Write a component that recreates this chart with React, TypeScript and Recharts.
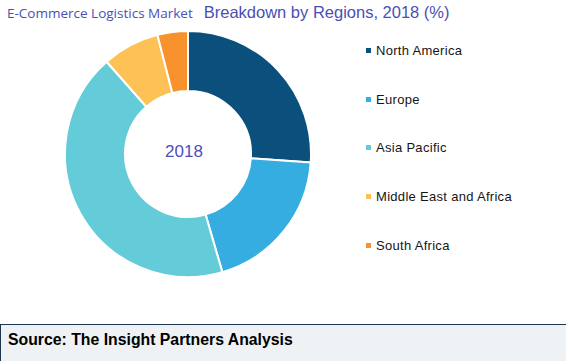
import React from 'react';
import { PieChart, Pie, Cell, Legend } from 'recharts';

const regions = ['North America', 'Europe', 'Asia Pacific', 'Middle East and Africa', 'South Africa'];
const shares = [26.1, 19.4, 43.0, 7.5, 4.0];
const colors = ['#0b4f7d', '#35ade1', '#63ccd8', '#fdc155', '#f7922c'];
const centerLabel = '2018';

const data = regions.map((name, i) => ({ name, value: shares[i] }));

const renderLegend = () => (
  <div style={{ display: 'flex', flexDirection: 'column' }}>
    {regions.map((r, i) => (
      <div key={r} style={{ display: 'flex', alignItems: 'center', height: 48.7, fontFamily: '"Liberation Sans", Arial, sans-serif', fontSize: 13, color: '#151515', letterSpacing: 0.3 }}>
        <span style={{ display: 'inline-block', width: 5, height: 5, background: colors[i], marginRight: 5 }} />
        {r}
      </div>
    ))}
  </div>
);

export default function App() {
  return (
    <div style={{ position: 'fixed', left: 0, top: 0, width: 570, height: 361, background: '#fff', overflow: 'hidden' }}>
      <div style={{ position: 'absolute', left: 7, top: 0, whiteSpace: 'nowrap', color: '#4a4fb5', lineHeight: '24px' }}>
        <span style={{ fontFamily: '"Open Sans", "DejaVu Sans", sans-serif', fontSize: 13.5 }}>E-Commerce Logistics Market</span>
        <span style={{ fontFamily: '"Liberation Sans", Arial, sans-serif', fontSize: 16.5, marginLeft: 11 }}>Breakdown by Regions, 2018 (%)</span>
      </div>
      <div style={{ position: 'absolute', left: 0, top: 0 }}>
        <PieChart width={570} height={320} margin={{ top: 0, right: 0, bottom: 0, left: 0 }}>
          <Pie
            data={data}
            dataKey="value"
            nameKey="name"
            cx={188}
            cy={154}
            innerRadius={63}
            outerRadius={123}
            startAngle={90}
            endAngle={-270}
            stroke="#ffffff"
            strokeWidth={2}
            isAnimationActive={false}
          >
            {data.map((d, i) => (
              <Cell key={d.name} fill={colors[i]} />
            ))}
          </Pie>
          <Legend content={renderLegend} layout="vertical" wrapperStyle={{ position: 'absolute', left: 366, top: 26, width: 200 }} />
        </PieChart>
      </div>
      <div style={{ position: 'absolute', left: 140, top: 140, width: 88, textAlign: 'center', fontFamily: '"Liberation Sans", Arial, sans-serif', fontSize: 17, color: '#4a4fc0', lineHeight: '24px' }}>
        {centerLabel}
      </div>
      <div style={{ position: 'absolute', left: 0, top: 324, width: 566, height: 40, background: '#eef2f5', borderTop: '1px solid #1d3550', borderLeft: '1px solid #1d3550', boxSizing: 'border-box' }}>
        <div style={{ position: 'absolute', left: 7, top: 6, fontFamily: '"Liberation Sans", Arial, sans-serif', fontWeight: 'bold', fontSize: 15.8, color: '#000', whiteSpace: 'nowrap' }}>
          Source: The Insight Partners Analysis
        </div>
      </div>
    </div>
  );
}
